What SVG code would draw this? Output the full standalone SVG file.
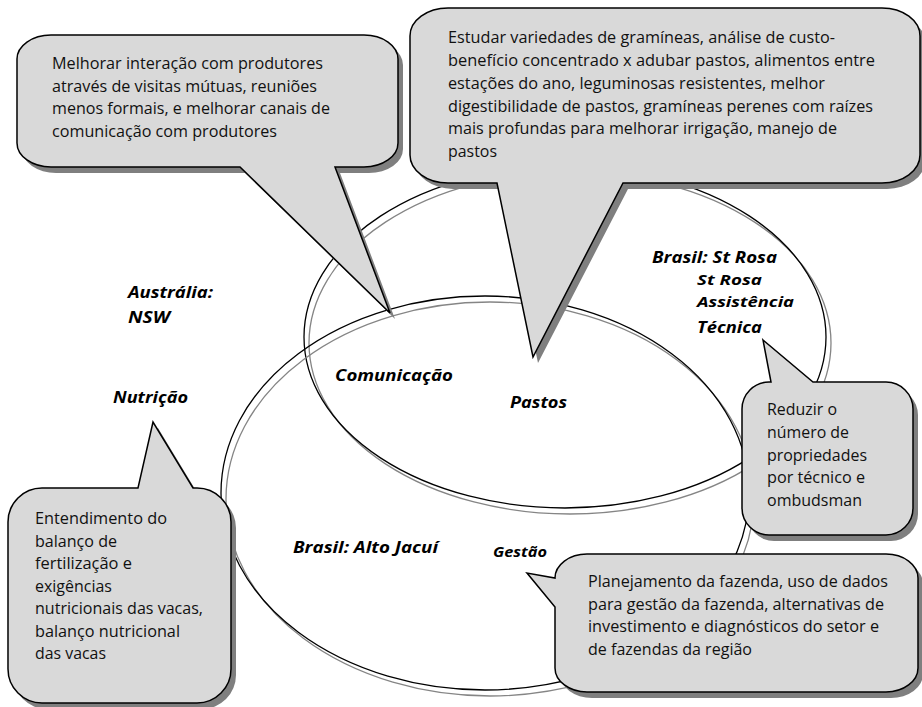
<svg xmlns="http://www.w3.org/2000/svg" xmlns:xlink="http://www.w3.org/1999/xlink" width="922" height="707" viewBox="0 0 922 707">
<style>
.bg{fill:#fff}
.box{fill:#d9d9d9;stroke:#000;stroke-width:1.5;stroke-linejoin:miter}
.shd{fill:#7f7f7f;stroke:none}
.el{fill:none;stroke:#000;stroke-width:1.3}
.els{fill:none;stroke:#858585;stroke-width:1.3}
.t{font-family:"Open Sans","Liberation Sans",sans-serif;font-size:15.5px;fill:#111}
.lb{font-family:"Open Sans","Liberation Sans",sans-serif;font-size:16px;font-weight:bold;font-style:italic;fill:#000}
.lbs{font-size:15px}
</style>
<defs>
<path id="p1" d="M51,35 H364 A34,24 0 0 1 398,59 V143 A34,24 0 0 1 364,167 H335 L390,313 L240,167 H51 A34,24 0 0 1 17,143 V59 A34,24 0 0 1 51,35 Z"/>
<path id="p2" d="M448,8 H882 A38,28 0 0 1 920,36 V155 A38,28 0 0 1 882,183 H623 L533,357 L497,183 H448 A38,28 0 0 1 410,155 V36 A38,28 0 0 1 448,8 Z"/>
<path id="p3" d="M42,488 H138 L153,422 L193,488 H197 A34,34 0 0 1 231,522 V669 A34,34 0 0 1 197,703 H42 A34,34 0 0 1 8,669 V522 A34,34 0 0 1 42,488 Z"/>
<path id="p4" d="M769,382 H771 L763,340 L813,382 H886 A27,27 0 0 1 913,409 V508 A27,27 0 0 1 886,535 H769 A27,27 0 0 1 742,508 V409 A27,27 0 0 1 769,382 Z"/>
<path id="p5" d="M587,554 H886 A32,24 0 0 1 918,578 V668 A32,24 0 0 1 886,692 H587 A32,24 0 0 1 555,668 V607 L527,573 L555,578 A32,24 0 0 1 587,554 Z"/>
</defs>
<rect class="bg" x="0" y="0" width="922" height="707"/>

<g id="circle-st-rosa">
<ellipse class="els" cx="570" cy="343" rx="261" ry="171"/>
<ellipse class="el" cx="565" cy="337" rx="261" ry="171"/>
</g>
<g id="circle-alto-jacui">
<ellipse class="els" cx="490" cy="499" rx="264" ry="197"/>
<ellipse class="el" cx="485" cy="493" rx="264" ry="197"/>
</g>

<g id="connectors"></g>

<g id="callout-comunicacao">
<use xlink:href="#p1" href="#p1" class="shd" transform="translate(5,6)"/>
<use xlink:href="#p1" href="#p1" class="box"/>
<text class="t" x="52" y="69" textLength="271" lengthAdjust="spacingAndGlyphs">Melhorar interação com produtores</text>
<text class="t" x="52" y="92" textLength="265" lengthAdjust="spacingAndGlyphs">através de visitas mútuas, reuniões</text>
<text class="t" x="52" y="114" textLength="278" lengthAdjust="spacingAndGlyphs">menos formais, e melhorar canais de</text>
<text class="t" x="52" y="137" textLength="225" lengthAdjust="spacingAndGlyphs">comunicação com produtores</text>
</g>

<g id="callout-pastos">
<use xlink:href="#p2" href="#p2" class="shd" transform="translate(5,6)"/>
<use xlink:href="#p2" href="#p2" class="box"/>
<text class="t" x="448" y="43" textLength="387" lengthAdjust="spacingAndGlyphs">Estudar variedades de gramíneas, análise de custo-</text>
<text class="t" x="448" y="66" textLength="427" lengthAdjust="spacingAndGlyphs">benefício concentrado x adubar pastos,  alimentos entre</text>
<text class="t" x="448" y="88.5" textLength="377" lengthAdjust="spacingAndGlyphs">estações do ano, leguminosas resistentes, melhor</text>
<text class="t" x="448" y="111.5" textLength="425" lengthAdjust="spacingAndGlyphs">digestibilidade de pastos, gramíneas perenes com raízes</text>
<text class="t" x="448" y="134" textLength="389" lengthAdjust="spacingAndGlyphs">mais profundas para melhorar irrigação, manejo de</text>
<text class="t" x="448" y="157" textLength="49" lengthAdjust="spacingAndGlyphs">pastos</text>
</g>

<g id="callout-nutricao">
<use xlink:href="#p3" href="#p3" class="shd" transform="translate(5,6)"/>
<use xlink:href="#p3" href="#p3" class="box"/>
<text class="t" x="35" y="524" textLength="132" lengthAdjust="spacingAndGlyphs">Entendimento do</text>
<text class="t" x="35" y="546.5" textLength="82" lengthAdjust="spacingAndGlyphs">balanço de</text>
<text class="t" x="35" y="569" textLength="97" lengthAdjust="spacingAndGlyphs">fertilização e</text>
<text class="t" x="35" y="591.5" textLength="77" lengthAdjust="spacingAndGlyphs">exigências</text>
<text class="t" x="35" y="614" textLength="168" lengthAdjust="spacingAndGlyphs">nutricionais das vacas,</text>
<text class="t" x="35" y="636.5" textLength="145" lengthAdjust="spacingAndGlyphs">balanço nutricional</text>
<text class="t" x="35" y="659" textLength="71" lengthAdjust="spacingAndGlyphs">das vacas</text>
</g>

<g id="callout-assistencia">
<use xlink:href="#p4" href="#p4" class="shd" transform="translate(5,6)"/>
<use xlink:href="#p4" href="#p4" class="box"/>
<text class="t" x="767" y="415" textLength="70" lengthAdjust="spacingAndGlyphs">Reduzir o</text>
<text class="t" x="767" y="437.8" textLength="82" lengthAdjust="spacingAndGlyphs">número de</text>
<text class="t" x="767" y="460.5" textLength="100" lengthAdjust="spacingAndGlyphs">propriedades</text>
<text class="t" x="767" y="483.3" textLength="98" lengthAdjust="spacingAndGlyphs">por técnico e</text>
<text class="t" x="767" y="506" textLength="95" lengthAdjust="spacingAndGlyphs">ombudsman</text>
</g>

<g id="callout-gestao">
<use xlink:href="#p5" href="#p5" class="shd" transform="translate(5,6)"/>
<use xlink:href="#p5" href="#p5" class="box"/>
<text class="t" x="588" y="587" textLength="300" lengthAdjust="spacingAndGlyphs">Planejamento da fazenda, uso de dados</text>
<text class="t" x="588" y="609.7" textLength="296" lengthAdjust="spacingAndGlyphs">para gestão da fazenda, alternativas de</text>
<text class="t" x="588" y="632.3" textLength="291" lengthAdjust="spacingAndGlyphs">investimento e diagnósticos do setor e</text>
<text class="t" x="588" y="655" textLength="164" lengthAdjust="spacingAndGlyphs">de fazendas da região</text>
</g>

<g id="label-australia">
<text class="lb" x="128" y="298" textLength="85" lengthAdjust="spacingAndGlyphs">Austrália:</text>
<text class="lb" x="128" y="323" textLength="42" lengthAdjust="spacingAndGlyphs">NSW</text>
</g>
<g id="label-nutricao"><text class="lb" x="113" y="403" textLength="75" lengthAdjust="spacingAndGlyphs">Nutrição</text></g>
<g id="label-comunicacao"><text class="lb" x="335" y="381" textLength="118" lengthAdjust="spacingAndGlyphs">Comunicação</text></g>
<g id="label-pastos"><text class="lb" x="510" y="408" textLength="57" lengthAdjust="spacingAndGlyphs">Pastos</text></g>
<g id="label-st-rosa">
<text class="lb" x="652" y="263" textLength="125" lengthAdjust="spacingAndGlyphs">Brasil: St Rosa</text>
<text class="lb lbs" x="697" y="285" textLength="65" lengthAdjust="spacingAndGlyphs">St Rosa</text>
<text class="lb lbs" x="697" y="306.5" textLength="97" lengthAdjust="spacingAndGlyphs">Assistência</text>
<text class="lb" x="697" y="333" textLength="65" lengthAdjust="spacingAndGlyphs">Técnica</text>
</g>
<g id="label-alto-jacui"><text class="lb" x="293" y="553" textLength="145" lengthAdjust="spacingAndGlyphs">Brasil: Alto Jacuí</text></g>
<g id="label-gestao"><text class="lb" x="493" y="557" style="font-size:14px" textLength="54" lengthAdjust="spacingAndGlyphs">Gestão</text></g>
</svg>
